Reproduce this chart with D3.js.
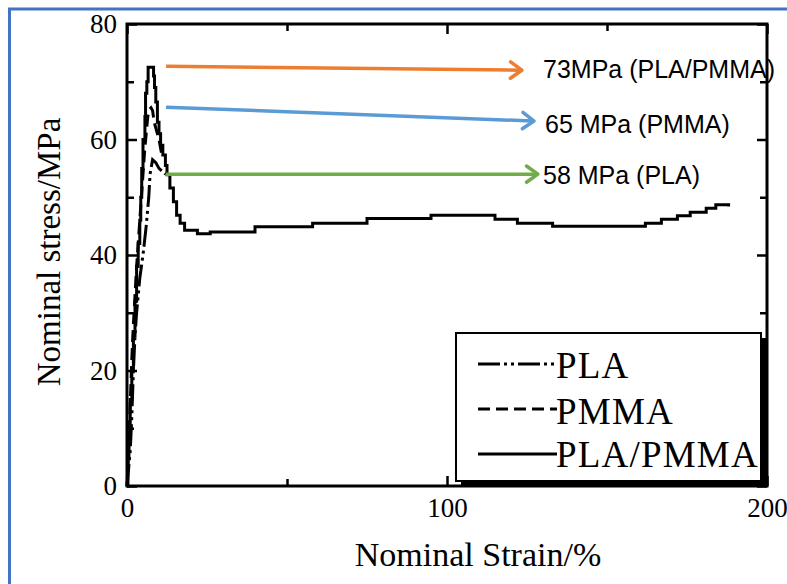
<!DOCTYPE html>
<html>
<head>
<meta charset="utf-8">
<script src="https://cdn.jsdelivr.net/npm/d3@7"></script>
<style>
  html, body { margin: 0; padding: 0; background: #fff; }
  svg { display: block; }
</style>
</head>
<body>
<svg id="chart" width="787" height="584"></svg>
<script>
// ---------------- DATA ----------------
const strainSolid = [0, 0.3, 0.6, 1, 1.5, 2, 2.5, 3, 3.5, 4, 4.3, 4.6, 5, 5.6, 5.8, 6.2, 6.6, 8, 8.3, 8.6, 9, 9.5, 10, 10.5, 11.2, 12, 12.5, 13.4, 14.5, 15.5, 16.6, 18, 22, 26, 40, 58, 75, 95, 115, 122, 133, 162, 167, 172, 176, 181, 184, 188];
const stressSolid = [0, 5, 10, 15, 20, 26, 32, 38, 42, 46, 50, 55, 60, 64, 68, 70, 72.5, 72.5, 71, 69, 66.5, 63, 61, 59, 57.3, 55.5, 53.9, 51.6, 49.2, 46.9, 45.5, 44.3, 43.7, 44.0, 44.9, 45.5, 46.3, 46.9, 46.2, 45.5, 45.0, 45.5, 46.2, 46.8, 47.4, 48.1, 48.7, 48.4];

const strainPMMA = [0, 0.5, 1, 1.5, 2, 2.5, 3, 3.5, 4, 4.5, 5, 5.5, 6, 6.5, 7, 7.5, 8, 8.5, 9, 9.5, 10, 10.5, 11];
const stressPMMA = [0, 6, 14, 22, 28, 33, 38, 42, 46, 50, 54, 58, 61, 64, 65.2, 65.5, 65, 63, 62, 61, 60, 58.5, 57];

const strainPLA = [0, 0.5, 1, 1.5, 2, 2.5, 3, 4, 5, 6, 6.8, 7.2, 8, 9, 10, 11, 12];
const stressPLA = [0, 3, 6, 12, 20, 26, 30, 36, 40, 45, 50, 54, 56.5, 56, 55, 54.5, 54];

const xTickValues = [0, 100, 200];
const xMinorTicks = [50, 150];
const yTickValues = [0, 20, 40, 60, 80];
const yMinorTicks = [10, 30, 50, 70];

const seriesNames = ["PLA", "PMMA", "PLA/PMMA"];

const annotationLabels = ["73MPa (PLA/PMMA)", "65 MPa (PMMA)", "58 MPa (PLA)"];
const annotationColors = ["#ED7D31", "#5B9BD5", "#70AD47"];
const annotationStartStrain = [12.2, 12.2, 12.2];
const annotationStartStress = [72.7, 65.6, 54.0];
const annotationEndStrain = [123.4, 127.2, 128.4];
const annotationEndStress = [72.0, 63.2, 54.0];

// ---------------- LAYOUT ----------------
const svg = d3.select("#chart");
const W = 787, H = 584;
const margin = {left: 127, top: 24, right: 20, bottom: 98};
const pw = W - margin.left - margin.right;   // 640
const ph = H - margin.top - margin.bottom;   // 462

const x = d3.scaleLinear().domain([0, 200]).range([margin.left, margin.left + pw]);
const y = d3.scaleLinear().domain([0, 80]).range([margin.top + ph, margin.top]);

const serif = "'Liberation Serif', 'Times New Roman', serif";
const sans = "'Liberation Sans', Arial, sans-serif";

// blue frame
svg.append("line").attr("x1", 8).attr("x2", W).attr("y1", 9).attr("y2", 9)
  .attr("stroke", "#4472C4").attr("stroke-width", 3);
svg.append("line").attr("x1", 9.5).attr("x2", 9.5).attr("y1", 8).attr("y2", H)
  .attr("stroke", "#4472C4").attr("stroke-width", 3);

// ticks (inward) via d3 axes
function addAxis(axis, tx, ty) {
  const g = svg.append("g").attr("transform", `translate(${tx},${ty})`).call(axis);
  g.select(".domain").remove();
  g.selectAll(".tick line").attr("stroke", "#000").attr("stroke-width", 2.5);
  return g;
}
const gyl = addAxis(d3.axisLeft(y).tickValues(yTickValues).tickSize(-10).tickPadding(10).tickFormat(d3.format("d")), margin.left, 0);
gyl.selectAll("text").attr("font-family", serif).attr("font-size", 27).attr("fill", "#000");
addAxis(d3.axisLeft(y).tickValues(yMinorTicks).tickSize(-7).tickFormat(""), margin.left, 0);
addAxis(d3.axisRight(y).tickValues(yTickValues).tickSize(-10).tickFormat(""), margin.left + pw, 0);
addAxis(d3.axisRight(y).tickValues(yMinorTicks).tickSize(-7).tickFormat(""), margin.left + pw, 0);

const gxb = addAxis(d3.axisBottom(x).tickValues(xTickValues).tickSize(-10).tickPadding(12).tickFormat(d3.format("d")), 0, margin.top + ph);
gxb.selectAll("text").attr("font-family", serif).attr("font-size", 27).attr("fill", "#000");
addAxis(d3.axisBottom(x).tickValues(xMinorTicks).tickSize(-7).tickFormat(""), 0, margin.top + ph);
addAxis(d3.axisTop(x).tickValues(xTickValues).tickSize(-10).tickFormat(""), 0, margin.top);
addAxis(d3.axisTop(x).tickValues(xMinorTicks).tickSize(-7).tickFormat(""), 0, margin.top);

// plot frame
svg.append("rect").attr("x", margin.left).attr("y", margin.top)
  .attr("width", pw).attr("height", ph)
  .attr("fill", "none").attr("stroke", "#000").attr("stroke-width", 3);

// axis titles
svg.append("text").attr("x", 478).attr("y", 566)
  .attr("text-anchor", "middle").attr("font-family", serif).attr("font-size", 34)
  .text("Nominal Strain/%");
svg.append("text").attr("transform", "translate(60,252) rotate(-90)")
  .attr("text-anchor", "middle").attr("font-family", serif).attr("font-size", 33)
  .text("Nominal stress/MPa");

// curves
const styles = [
  {dash: "22,4,3,4,3,4", curve: d3.curveLinear},
  {dash: "12,6", curve: d3.curveLinear},
  {dash: null, curve: d3.curveStepAfter}
];
const seriesData = [
  d3.zip(strainPLA, stressPLA),
  d3.zip(strainPMMA, stressPMMA),
  d3.zip(strainSolid, stressSolid)
];
seriesData.forEach((data, i) => {
  const line = d3.line().x(d => x(d[0])).y(d => y(d[1])).curve(styles[i].curve);
  svg.append("path").attr("d", line(data))
    .attr("fill", "none").attr("stroke", "#000").attr("stroke-width", 3)
    .attr("stroke-dasharray", styles[i].dash)
    .attr("stroke-linejoin", "miter");
});

// legend
const lg = svg.append("g");
lg.append("rect").attr("x", 461).attr("y", 338).attr("width", 306).attr("height", 148)
  .attr("fill", "#000");
lg.append("rect").attr("x", 456).attr("y", 333).attr("width", 305).attr("height", 148)
  .attr("fill", "#fff").attr("stroke", "#000").attr("stroke-width", 2);
const legendY = [364, 409, 454];
const legendBase = [378, 424, 467];
seriesNames.forEach((name, i) => {
  lg.append("line").attr("x1", 478).attr("x2", 557).attr("y1", legendY[i]).attr("y2", legendY[i])
    .attr("stroke", "#000").attr("stroke-width", 3).attr("stroke-dasharray", styles[i].dash);
  lg.append("text").attr("x", 556).attr("y", legendBase[i])
    .attr("font-family", serif).attr("font-size", 37).attr("letter-spacing", 1.2).text(name);
});

// annotations
const ann = svg.append("g");
annotationLabels.forEach((label, i) => {
  const x1 = x(annotationStartStrain[i]), y1 = y(annotationStartStress[i]);
  const x2 = x(annotationEndStrain[i]), y2 = y(annotationEndStress[i]);
  const ang = Math.atan2(y2 - y1, x2 - x1);
  const L = 14, spread = 0.62;
  ann.append("line").attr("x1", x1).attr("y1", y1).attr("x2", x2 - 1).attr("y2", y2)
    .attr("stroke", annotationColors[i]).attr("stroke-width", 3.5);
  const p1 = [x2 - L * Math.cos(ang - spread), y2 - L * Math.sin(ang - spread)];
  const p2 = [x2 - L * Math.cos(ang + spread), y2 - L * Math.sin(ang + spread)];
  ann.append("path").attr("d", `M${p1[0]},${p1[1]}L${x2},${y2}L${p2[0]},${p2[1]}`)
    .attr("fill", "none").attr("stroke", annotationColors[i]).attr("stroke-width", 3.5)
    .attr("stroke-linecap", "round").attr("stroke-linejoin", "round");
});
const textX = [543, 545, 543];
const textY = [78, 133, 184];
annotationLabels.forEach((label, i) => {
  ann.append("text").attr("x", textX[i]).attr("y", textY[i])
    .attr("font-family", sans).attr("font-size", 25).attr("fill", "#000").text(label);
});
</script>
</body>
</html>
